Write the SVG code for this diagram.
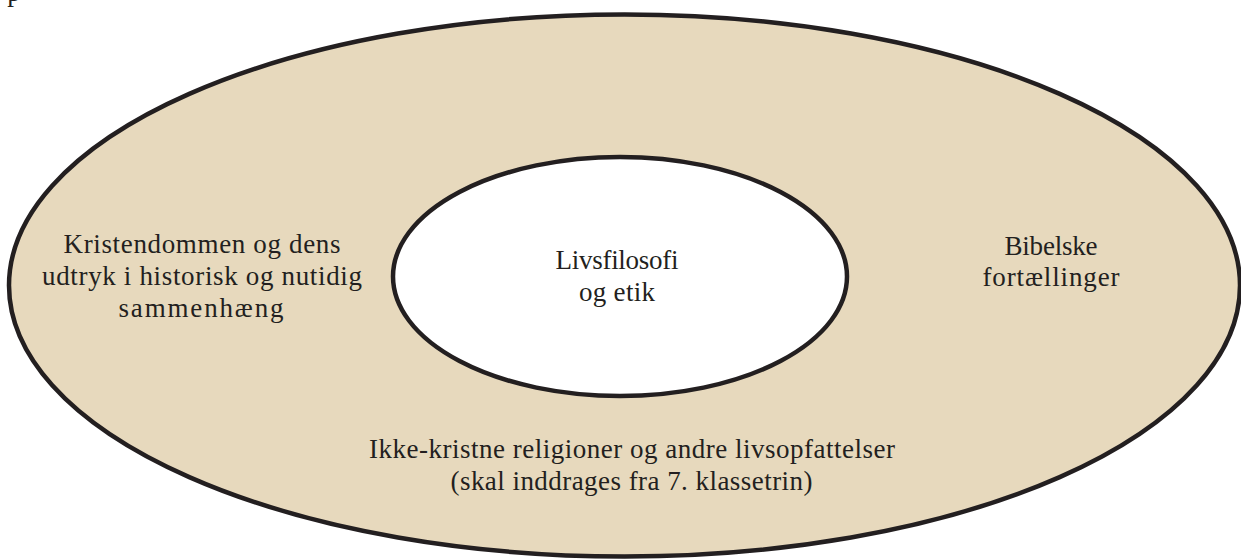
<svg xmlns="http://www.w3.org/2000/svg" width="1241" height="559" viewBox="0 0 1241 559">
<style>
.ring{stroke:#231f20;stroke-width:4.5}
.t{font-family:"Liberation Serif","Times New Roman",serif;font-size:27px;fill:#231f20;text-anchor:middle}
</style>
<rect width="1241" height="559" fill="#ffffff"/>
<text class="t" x="14" y="1">p</text>
<g id="outer">
<ellipse class="ring" cx="624.5" cy="285.5" rx="615.5" ry="271" fill="#e7d9bd"/>
<text class="t" x="202" y="253" textLength="277" lengthAdjust="spacing">Kristendommen og dens</text>
<text class="t" x="202" y="285" textLength="320" lengthAdjust="spacing">udtryk i historisk og nutidig</text>
<text class="t" x="201" y="317" textLength="165" lengthAdjust="spacing">sammenhæng</text>
<text class="t" x="1051" y="255" textLength="93" lengthAdjust="spacing">Bibelske</text>
<text class="t" x="1051" y="286" textLength="137" lengthAdjust="spacing">fortællinger</text>
<text class="t" x="632" y="458" textLength="526" lengthAdjust="spacing">Ikke-kristne religioner og andre livsopfattelser</text>
<text class="t" x="631.5" y="490" textLength="362" lengthAdjust="spacing">(skal inddrages fra 7. klassetrin)</text>
</g>
<g id="inner">
<ellipse class="ring" cx="620" cy="276.5" rx="227" ry="119.5" fill="#ffffff"/>
<text class="t" x="617" y="269" textLength="123" lengthAdjust="spacing">Livsfilosofi</text>
<text class="t" x="617" y="301" textLength="76" lengthAdjust="spacing">og etik</text>
</g>
<g id="connectors"></g>
</svg>
